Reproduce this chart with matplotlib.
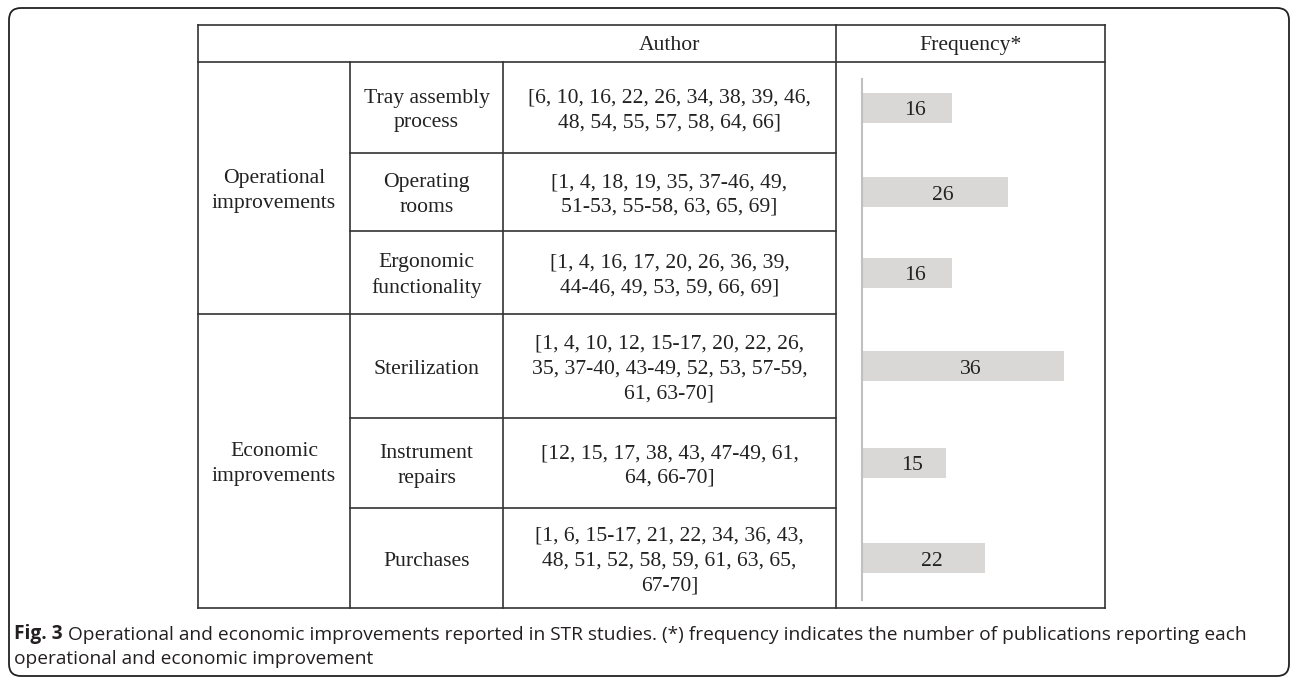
import matplotlib.pyplot as plt
from matplotlib.patches import FancyBboxPatch

groups = ['Operational\nimprovements', 'Economic\nimprovements']
items = ['Tray assembly\nprocess', 'Operating\nrooms', 'Ergonomic\nfunctionality',
         'Sterilization', 'Instrument\nrepairs', 'Purchases']
authors = ['[6, 10, 16, 22, 26, 34, 38, 39, 46,\n48, 54, 55, 57, 58, 64, 66]',
           '[1, 4, 18, 19, 35, 37-46, 49,\n51-53, 55-58, 63, 65, 69]',
           '[1, 4, 16, 17, 20, 26, 36, 39,\n44-46, 49, 53, 59, 66, 69]',
           '[1, 4, 10, 12, 15-17, 20, 22, 26,\n35, 37-40, 43-49, 52, 53, 57-59,\n61, 63-70]',
           '[12, 15, 17, 38, 43, 47-49, 61,\n64, 66-70]',
           '[1, 6, 15-17, 21, 22, 34, 36, 43,\n48, 51, 52, 58, 59, 61, 63, 65,\n67-70]']
frequency = [16, 26, 16, 36, 15, 22]

W, H = 1292, 679
fig = plt.figure(figsize=(W / 100, H / 100), dpi=100)
ax = fig.add_axes([0, 0, 1, 1])
ax.set_xlim(0, W)
ax.set_ylim(H, 0)
ax.axis('off')

# outer rounded frame
frame = FancyBboxPatch((9, 8), 1280, 668, boxstyle='round,pad=0,rounding_size=12',
                       fc='none', ec='#222222', lw=1.3)
ax.add_patch(frame)

# table layout (pixels)
cols = [198, 350, 503, 836, 1105]
top, head = 25, 62
rows = [62, 153, 231, 314, 418, 508, 608]
lc = '#333333'
lw = 1.2

ax.plot([cols[0], cols[-1]], [top, top], color=lc, lw=lw)
ax.plot([cols[0], cols[-1]], [head, head], color=lc, lw=lw)
ax.plot([cols[0], cols[-1]], [rows[-1], rows[-1]], color=lc, lw=lw)
ax.plot([cols[0], cols[0]], [top, rows[-1]], color=lc, lw=lw)
ax.plot([cols[-1], cols[-1]], [top, rows[-1]], color=lc, lw=lw)
ax.plot([cols[3], cols[3]], [top, rows[-1]], color=lc, lw=lw)
ax.plot([cols[1], cols[1]], [head, rows[-1]], color=lc, lw=lw)
ax.plot([cols[2], cols[2]], [head, rows[-1]], color=lc, lw=lw)
for r in rows[1:-1]:
    x0 = cols[0] if r == rows[3] else cols[1]
    ax.plot([x0, cols[3]], [r, r], color=lc, lw=lw)

serif = 'Liberation Serif'
fs = 15.6
ls = 1.42
dy = 3  # nudge text down, va='center' counts the descent
tc = '#222222'
ax.text((cols[2] + cols[3]) / 2, (top + head) / 2 + 2, 'Author', family=serif, fontsize=fs,
        ha='center', va='center', color=tc)
ax.text((cols[3] + cols[4]) / 2, (top + head) / 2 + 2, 'Frequency*', family=serif, fontsize=fs,
        ha='center', va='center', color=tc)

ax.text((cols[0] + cols[1]) / 2, (rows[0] + rows[3]) / 2 + dy, groups[0], family=serif,
        fontsize=fs, ha='center', va='center', color=tc, linespacing=ls)
ax.text((cols[0] + cols[1]) / 2, (rows[3] + rows[6]) / 2 + dy, groups[1], family=serif,
        fontsize=fs, ha='center', va='center', color=tc, linespacing=ls)

centers = [(rows[i] + rows[i + 1]) / 2 for i in range(len(items))]
for cy, it, au in zip(centers, items, authors):
    ax.text((cols[1] + cols[2]) / 2, cy + dy, it, family=serif, fontsize=fs,
            ha='center', va='center', color=tc, linespacing=ls)
    ax.text((cols[2] + cols[3]) / 2, cy + dy, au, family=serif, fontsize=fs,
            ha='center', va='center', color=tc, linespacing=ls)

# frequency bars inside the last column
bx0, bx1, by0, by1 = 862, 1105, 79, 600
bax = fig.add_axes([bx0 / W, 1 - by1 / H, (bx1 - bx0) / W, (by1 - by0) / H])
bax.set_xlim(0, (bx1 - bx0) / 5.6)
bax.set_ylim(by1, by0)
bars = bax.barh(centers, frequency, height=30, color='#d9d8d7', align='center')
for b, f in zip(bars, frequency):
    bax.text(b.get_width() / 2 + 1.5, b.get_y() + b.get_height() / 2 + dy, str(f),
             family=serif, fontsize=fs, ha='center', va='center', color=tc)
for s in ['top', 'right', 'bottom']:
    bax.spines[s].set_visible(False)
bax.spines['left'].set_color('#c0c0c0')
bax.spines['left'].set_linewidth(1.5)
bax.set_xticks([])
bax.set_yticks([])
bax.patch.set_alpha(0)

# caption
cap = 'Open Sans'
cfs = 13.75
cc = '#231f20'
t1 = ax.text(14, 639, 'Fig. 3', family=cap, fontsize=cfs, fontweight='bold', color=cc,
             ha='left', va='baseline')
ax.annotate(' Operational and economic improvements reported in STR studies. (*) frequency '
            'indicates the number of publications reporting each',
            xy=(1, 0), xycoords=t1, family=cap, fontsize=cfs, color=cc, ha='left', va='bottom')
ax.text(14, 664, 'operational and economic improvement', family=cap, fontsize=cfs, color=cc,
        ha='left', va='baseline')

plt.savefig('out.png', dpi=100)
